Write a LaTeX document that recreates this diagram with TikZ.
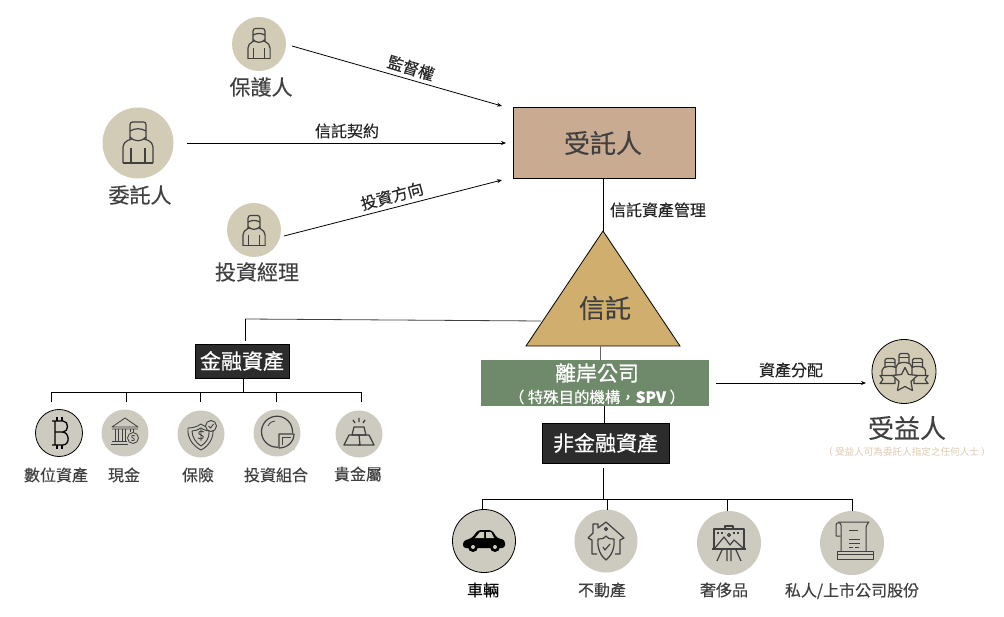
\documentclass[tikz,border=0pt]{standalone}
\usepackage{fontspec}
\setmainfont{Noto Sans CJK TC}
\newfontfamily\embf{Noto Sans CJK TC}[RawFeature={embolden=0.5}]
\newfontfamily\emlt{Noto Sans CJK TC}[RawFeature={embolden=0.3}]
\usetikzlibrary{arrows.meta}
\definecolor{inkc}{HTML}{404040}
\definecolor{tanc}{HTML}{D2CBB5}
\definecolor{greyc}{HTML}{CDCAC0}
\definecolor{trusteec}{HTML}{C9AB92}
\definecolor{trustc}{HTML}{CFAE6E}
\definecolor{greenc}{HTML}{6F8A6B}
\definecolor{darkc}{HTML}{2C2C2C}
\definecolor{notec}{HTML}{DCC8AE}
\tikzset{
  line/.style={draw=black,line width=0.8pt},
  arrowline/.style={line,-{Stealth[length=5pt,width=4pt]}},
  circ/.style={circle,inner sep=0pt,minimum size=#1},
  tan/.style={circ=#1,fill=tanc},
  grey/.style={circ=#1,fill=greyc},
  lab/.style={text=inkc,font=\fontsize{16}{18}\selectfont\emlt,inner sep=0pt},
  bigl/.style={text=inkc,font=\fontsize{21}{24}\selectfont\emlt,inner sep=0pt},
  huge/.style={text=inkc,font=\fontsize{26}{30}\selectfont\emlt,inner sep=0pt},
  conn/.style={text=black!85,font=\fontsize{16}{18}\selectfont\emlt,inner sep=0pt},
  darkbox/.style={draw=black,line width=0.8pt,fill=darkc,text=white,inner sep=0pt,font=\fontsize{21}{24}\selectfont\embf},
  ic/.style={draw=inkc,line width=1.2pt,line join=round},
  personicon/.pic={
    \draw[ic,rounded corners=2.5pt] (-8,-3) -- (-8,-21) -- (8,-21) -- (8,-3);
    \draw[ic] (-8,-12) .. controls (-3,-15) and (3,-15) .. (8,-12);
    \draw[ic] (-8,-6) .. controls (-4,-1) and (4,-1) .. (8,-6);
    \draw[ic,rounded corners=5pt] (-15,20) -- (-15,-1) -- (-6,-4);
    \draw[ic,rounded corners=5pt] (15,20) -- (15,-1) -- (6,-4);
    \draw[ic] (-15,20) -- (15,20) (-7,20) -- (-7,5) (7,20) -- (7,5);
  },
  coinicon/.pic={
    \draw[draw=black,line width=1.3pt,rounded corners=1pt] (-7,-12) -- (3,-12) .. controls (10,-12) and (10,-1) .. (3,-1) -- (-4,-1) (3,-1) .. controls (11,-1) and (11,12) .. (3,12) -- (-7,12) (-4,-12) -- (-4,12);
    \draw[draw=black,line width=1.1pt] (-2,-16) -- (-2,-12) (3,-16) -- (3,-12) (-2,12) -- (-2,16) (3,12) -- (3,16);
  },
  bankicon/.pic={
    \draw[ic,line width=.8pt] (0,-15) -- (13,-6) -- (-13,-6) -- cycle (-13,-4) -- (13,-4);
    \draw[ic,line width=.8pt] (-10,-4) -- (-10,8) (-7,-4) -- (-7,8) (-3,-4) -- (-3,8) (0,-4) -- (0,8) (5,-4) -- (5,-1) (8,-4) -- (8,-1);
    \draw[ic,line width=.8pt] (-13,8) -- (2,8) (-14,11) -- (3,11);
    \draw[ic,line width=.8pt,fill=greyc] (8,5) circle[radius=5.5];
    \draw[ic,line width=.7pt] (10,3) .. controls (7,1) and (5,4) .. (8,5) .. controls (11,6) and (9,9) .. (6,7);
  },
  shieldicon/.pic={
    \draw[ic,line width=.9pt] (0,-10) .. controls (-4,-7) and (-9,-6) .. (-13,-6) .. controls (-14,4) and (-8,12) .. (0,16) .. controls (8,12) and (13,4) .. (12,-6) .. controls (8,-6) and (4,-7) .. (0,-10);
    \draw[ic,line width=.9pt] (0,-6) .. controls (-3,-4) and (-6,-3) .. (-9,-3) .. controls (-9,3) and (-5,9) .. (0,12) .. controls (5,9) and (9,3) .. (8,-3) .. controls (6,-3) and (3,-4) .. (0,-6);
    \draw[ic,line width=.9pt] (3,-2) .. controls (-1,-5) and (-5,0) .. (0,1) .. controls (5,2) and (1,7) .. (-3,4) (0,-5) -- (0,7);
    \draw[ic,line width=.9pt,fill=greyc] (10,-8) circle[radius=5.5];
    \draw[ic,line width=.9pt] (7.5,-8) -- (9.5,-6) -- (12.5,-10);
  },
  pieicon/.pic={
    \draw[ic] (0,-1.3) circle[radius=15.5];
    \fill[greyc] (0.5,0) rectangle (18,17);
    \draw[ic,line width=.8pt] (-9,-7) .. controls (-7,-11) and (-4,-12) .. (-2,-12);
    \draw[ic] (2,15) -- (2,1) -- (17,1) .. controls (17,9) and (10,15) .. (2,15) -- cycle;
    \draw[ic,line width=.6pt] (5,4) -- (14,4) (5,4) -- (5,12);
  },
  goldicon/.pic={
    \draw[ic,line width=1.3pt] (-5,-7) -- (5,-7) -- (7,1) -- (-7,1) -- cycle;
    \draw[ic,line width=1.3pt] (-10,1) -- (0,1) -- (1,11) -- (-15,11) -- cycle;
    \draw[ic,line width=1.3pt] (0,1) -- (10,1) -- (15,11) -- (-1,11);
    \draw[ic,line width=1.3pt] (0,-16) -- (0,-12) (6,-14) -- (4,-11) (-6,-14) -- (-4,-11);
  },
  caricon/.pic={
    \fill[black,rounded corners=3pt] (-21,7) -- (-21,0) -- (-12,-3) -- (-6,-11) -- (8,-11) -- (13,-3) -- (21,-1) -- (21,7) -- cycle;
    \fill[greyc] (-9,-3) -- (-4,-9) -- (0,-9) -- (0,-3) -- cycle (2,-9) -- (7,-9) -- (10,-3) -- (2,-3) -- cycle;
    \fill[black] (-11,6) circle[radius=5] (11,6) circle[radius=5];
    \fill[greyc] (-11,6) circle[radius=2] (11,6) circle[radius=2];
  },
  houseicon/.pic={
    \draw[ic] (-18,-3) -- (-13,-8) -- (-13,-17) -- (-8,-17) -- (-8,-13) -- (0,-19) -- (18,-3) -- (14,-1) -- (14,13) -- (9,13);
    \draw[ic] (-18,-3) -- (-14,-1) -- (-14,13) -- (-9,13);
    \draw[ic] (-8,-2) .. controls (-3,-2) and (-1,-3) .. (0,-5) .. controls (1,-3) and (3,-2) .. (8,-2) .. controls (9,8) and (5,15) .. (0,19) .. controls (-5,15) and (-9,8) .. (-8,-2);
    \draw[ic] (-3,6) -- (-1,9) -- (4,3);
    \draw[ic] (0,-12) circle[radius=1.5];
  },
  easelicon/.pic={
    \draw[ic] (-15,-14) rectangle (15,6) (-17,6) -- (17,6);
    \draw[ic] (-4,-14) -- (-4,-17) -- (4,-17) -- (4,-14);
    \draw[ic] (-14,5) -- (-5,-6) -- (1,2) -- (5,-3) -- (14,5);
    \draw[ic,dash pattern=on 2pt off 2pt] (-12,-10) -- (-4,-10) (4,-10) -- (12,-10);
    \draw[ic] (0,-8) circle[radius=1.5];
    \draw[ic] (-7,7) -- (-12,18) (7,7) -- (12,18) (-2,7) -- (-2,18) (2,7) -- (2,18);
  },
  scrollicon/.pic={
    \draw[ic,line width=1pt] (-12,-7) -- (-16,-7) -- (-16,-18) .. controls (-16,-21) and (-11,-21) .. (-11,-18) -- (-11,8);
    \draw[ic,line width=1pt] (-14,-21) -- (17,-21) .. controls (14,-18) and (14,-16) .. (14,-14) -- (14,8);
    \draw[ic,line width=1pt] (-15,8) rectangle (21,16) (-15,11) -- (21,11);
    \draw[ic,line width=1pt] (-3,-13) -- (6,-13) (-3,-4) -- (8,-4) (-3,0) -- (8,0);
    \draw[ic,line width=1pt,dash pattern=on 4pt off 1.5pt] (-3,4) -- (8,4);
  },
  groupicon/.pic={
    % side people
    \foreach \px in {-14,13.5} {
      \draw[ic,rounded corners=1.5pt] (\px-5,-4) -- (\px-5,-13) -- (\px+5,-13) -- (\px+5,-4);
      \draw[ic] (\px-5,-9) -- (\px+5,-9);
      \draw[ic,rounded corners=2pt] (\px-8,4) -- (\px-8,-3) -- (\px-4,-5) -- (\px+4,-5) -- (\px+8,-3) -- (\px+8,4);
    }
    % centre person
    \draw[ic,rounded corners=1.5pt,fill=tanc] (-5,-8) -- (-5,-18) -- (5,-18) -- (5,-8);
    \draw[ic] (-5,-14) -- (5,-14);
    \draw[ic,rounded corners=2pt,fill=tanc] (-8,4) -- (-8,-6) -- (-4,-9) -- (4,-9) -- (8,-6) -- (8,4);
    % ribbons
    \draw[ic,fill=tanc] (-24,4) -- (-9,4) -- (-9,12) -- (-24,12) -- (-21,8) -- cycle;
    \draw[ic,fill=tanc] (24,4) -- (10,4) -- (10,12) -- (24,12) -- (21,8) -- cycle;
    % star
    \draw[ic,fill=tanc] (1,-4) -- (4.5,3) -- (13.5,4) -- (7,10) -- (8.5,19) -- (1,15) -- (-6.5,19) -- (-5,10) -- (-11.5,4) -- (-2.5,3) -- cycle;
  },
}
\begin{document}
\begin{tikzpicture}[x=1pt,y=-1pt]
\useasboundingbox (0,0) rectangle (1004,617);
% top people
\node[circ=52,fill=tanc,minimum width=54,minimum height=51] (prot) at (259,44) {};
\node[fill=tanc,circle,inner sep=0pt,minimum size=71] (settlor) at (138,143) {};
\node[circ=52,fill=tanc,minimum width=54,minimum height=52] (mgr) at (254,230) {};
\pic[scale=.74] at (259,44) {personicon};
\pic at (138,143) {personicon};
\pic[scale=.74] at (254,231) {personicon};
\node[bigl] (protl) at (261,87) {保護人};
\node[bigl] (settlorl) at (140,195) {委託人};
\node[bigl] (mgrl) at (257,272) {投資經理};
% trustee
\node[draw=black,line width=0.8pt,fill=trusteec,minimum width=182,minimum height=71,inner sep=0pt] (trustee) at (604,142.5) {};
\node[huge] (trusteel) at (603,143) {受託人};
% trust triangle
\coordinate (apex) at (603,231);
\coordinate (bl) at (526,346);
\coordinate (br) at (680,346);
\draw[draw=black,line width=0.8pt,fill=trustc] (apex) -- (br) -- (bl) -- cycle;
\node[huge] (trustl) at (605,308) {信託};
% spv
\node[fill=greenc,minimum width=228,minimum height=46,inner sep=0pt] (spv) at (595,383) {};
\node[text=white,inner sep=0pt,font=\fontsize{21}{24}\selectfont\embf] (spv1) at (597,373) {離岸公司};
\node[text=white,inner sep=0pt,font=\fontsize{15.4}{18}\selectfont\embf] (spv2) at (597,397) {（ 特殊目的機構，\textbf{SPV} ）};
% dark boxes
\node[darkbox,minimum width=94,minimum height=34] (fin) at (242,361) {金融資產};
\node[darkbox,minimum width=127,minimum height=40] (nonfin) at (605.5,443) {非金融資產};
% financial icons
\node[grey=47,draw=black,line width=0.8pt] (btc) at (59,433) {};
\node[grey=47] (cash) at (125,433) {};
\node[grey=47] (ins) at (201,434) {};
\node[grey=47] (port) at (277,433) {};
\node[grey=47] (gold) at (359,434) {};
\pic at (59,433) {coinicon};
\pic at (125,433) {bankicon};
\pic at (201,434) {shieldicon};
\pic at (277,433) {pieicon};
\pic at (359,434) {goldicon};
\node[lab] (btcl) at (56,475) {數位資產};
\node[lab] (cashl) at (124,475) {現金};
\node[lab] (insl) at (198,475) {保險};
\node[lab] (portl) at (276,475) {投資組合};
\node[lab] (goldl) at (358,474) {貴金屬};
% non financial icons
\node[grey=63,draw=black,line width=0.8pt] (car) at (484,541) {};
\node[grey=63] (house) at (606,541) {};
\node[grey=64] (lux) at (729,543) {};
\node[grey=64] (share) at (852,543) {};
\pic at (484,541) {caricon};
\pic at (606,541) {houseicon};
\pic at (729,543) {easelicon};
\pic at (852,543) {scrollicon};
\node[lab,text=black] (carl) at (483,590) {車輛};
\node[lab] (housel) at (602,590) {不動產};
\node[lab] (luxl) at (724,590) {奢侈品};
\node[lab] (sharel) at (852,591) {私人/上市公司股份};
% beneficiary
\node[tan=64,draw=black,line width=0.8pt] (ben) at (904,371.5) {};
\pic at (904,371.5) {groupicon};
\node[huge] (benl) at (907,428) {受益人};
\node[text=notec,inner sep=0pt,font=\fontsize{9.6}{11}\selectfont] (benn) at (907,452) {（ 受益人可為委託人指定之任何人士 ）};
% arrows
\coordinate (a1s) at (292,46); \coordinate (a1e) at (502,106);
\coordinate (a2s) at (187,143); \coordinate (a2e) at (506,143);
\coordinate (a3s) at (284,236); \coordinate (a3e) at (502,180);
\coordinate (a4s) at (716,383); \coordinate (a4e) at (866,383);
\draw[arrowline] (a1s) -- (a1e);
\draw[arrowline] (a2s) -- (a2e);
\draw[arrowline] (a3s) -- (a3e);
\draw[arrowline] (a4s) -- (a4e);
\node[conn,rotate=-17] (l1) at (411,68) {監督權};
\node[conn] (l2) at (347,131) {信託契約};
\node[conn,rotate=15] (l3) at (392,196) {投資方向};
\node[conn] (l4) at (658,210) {信託資產管理};
\node[conn] (l5) at (791,370) {資產分配};
% trust links
\coordinate (t1) at (603,178);
\draw[line] (t1) -- (apex);
\coordinate (t2) at (600,346); \coordinate (t3) at (600,360);
\draw[line,draw=inkc!80] (t2) -- (t3);
\coordinate (t4) at (604,406); \coordinate (t5) at (604,423);
\draw[line] (t4) -- (t5);
\coordinate (f1) at (541,321); \coordinate (f2) at (245,319); \coordinate (f3) at (245,341);
\draw[line,draw=inkc] (f1) -- (f2);
\draw[line] (f2) -- (f3);
% financial tree
\coordinate (ft) at (243,378); \coordinate (fb) at (243,392);
\coordinate (d1) at (51.5,392); \coordinate (d1e) at (51.5,402);
\coordinate (d2) at (126,392); \coordinate (d2e) at (126,402);
\coordinate (d3) at (200,392); \coordinate (d3e) at (200,402);
\coordinate (d4) at (276,392); \coordinate (d4e) at (276,402);
\coordinate (d5) at (361,392); \coordinate (d5e) at (361,402);
\draw[line] (ft) -- (fb);
\draw[line] (d1e) -- (d1) -- (d5) -- (d5e);
\draw[line] (d2) -- (d2e);
\draw[line] (d3) -- (d3e);
\draw[line] (d4) -- (d4e);
% non financial tree
\coordinate (nt) at (603,468); \coordinate (nb) at (603,499);
\coordinate (n1) at (482,499); \coordinate (n1e) at (482,510);
\coordinate (n2) at (607,499); \coordinate (n2e) at (607,510);
\coordinate (n3) at (727,499); \coordinate (n3e) at (727,511);
\coordinate (n4) at (852,499); \coordinate (n4e) at (852,511);
\draw[line] (nt) -- (nb);
\draw[line] (n1e) -- (n1) -- (n4) -- (n4e);
\draw[line] (n2) -- (n2e);
\draw[line] (n3) -- (n3e);
\end{tikzpicture}
\end{document}
